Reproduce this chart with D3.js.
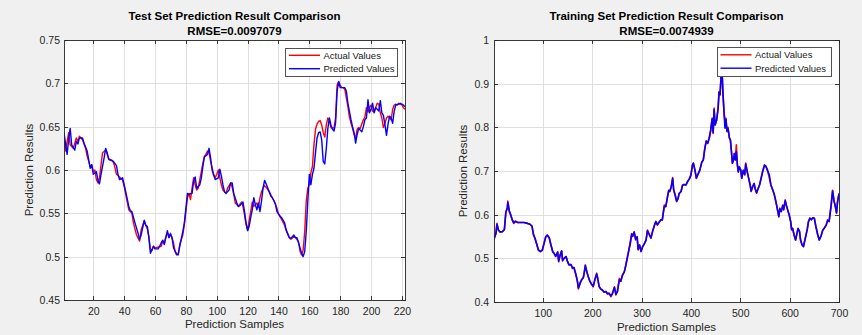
<!DOCTYPE html>
<html>
<head>
<meta charset="utf-8">
<script src="https://cdn.jsdelivr.net/npm/d3@7"></script>
<style>
  html, body { margin: 0; padding: 0; background: #f0f0f0; }
  svg { display: block; font-family: "Liberation Sans", Arial, Helvetica, sans-serif; }
</style>
</head>
<body>
<svg id="chart" width="862" height="335"></svg>
<script>
// ---- test set: [sample, value] ----
const testActual = [
  [1,0.637],[2,0.622],[4,0.643],[5,0.629],[7,0.625],[9,0.637],[10,0.633],[11,0.639],[13,0.635],[15,0.625],
  [16,0.616],[18,0.604],[19,0.606],[20,0.598],[21,0.600],[22,0.589],[23,0.585],[24,0.591],[25,0.606],[26,0.620],
  [28,0.623],[30,0.613],[32,0.611],[33,0.609],[34,0.603],[35,0.595],[37,0.592],[39,0.588],[40,0.581],[41,0.572],
  [43,0.554],[45,0.550],[46,0.539],[48,0.525],[50,0.518],[51,0.531],[53,0.541],[55,0.532],[56,0.523],[57,0.509],
  [58,0.507],[59,0.512],[60,0.510],[62,0.511],[64,0.512],[65,0.518],[66,0.516],[67,0.523],[68,0.528],[69,0.522],
  [70,0.527],[72,0.516],[73,0.506],[74,0.502],[75,0.503],[76,0.514],[78,0.525],[79,0.537],[80,0.552],[81,0.568],
  [82,0.573],[83,0.566],[84,0.579],[85,0.591],[86,0.583],[87,0.577],[88,0.579],[89,0.589],[90,0.598],[91,0.608],
  [92,0.616],[93,0.618],[94,0.622],[95,0.620],[96,0.610],[98,0.595],[99,0.591],[100,0.595],[101,0.600],[102,0.591],
  [103,0.583],[104,0.577],[106,0.573],[107,0.579],[109,0.585],[110,0.580],[111,0.572],[112,0.562],[114,0.558],[116,0.563],
  [117,0.558],[118,0.548],[119,0.537],[120,0.531],[121,0.542],[122,0.552],[123,0.563],[124,0.558],[125,0.560],[126,0.562],
  [127,0.557],[128,0.568],[129,0.575],[130,0.579],[131,0.582],[132,0.580],[134,0.575],[136,0.568],[137,0.565],[139,0.556],
  [140,0.549],[142,0.543],[144,0.536],[145,0.530],[147,0.522],[148,0.520],[150,0.523],[151,0.522],[153,0.517],[154,0.506],
  [155,0.502],[156,0.508],[157,0.529],[158,0.564],[159,0.579],[160,0.583],[161,0.597],[162,0.604],[163,0.629],[164,0.647],
  [165,0.653],[166,0.656],[167,0.657],[168,0.652],[169,0.643],[170,0.638],[171,0.652],[172,0.660],[173,0.657],[174,0.649],
  [175,0.648],[176,0.649],[177,0.660],[178,0.698],[179,0.702],[180,0.698],[181,0.695],[182,0.695],[183,0.693],[184,0.683],
  [185,0.673],[186,0.661],[187,0.654],[188,0.648],[189,0.641],[190,0.637],[191,0.647],[192,0.649],[193,0.648],[194,0.653],
  [195,0.658],[196,0.661],[197,0.672],[198,0.667],[199,0.672],[200,0.675],[201,0.668],[202,0.667],[203,0.672],[204,0.677],
  [205,0.676],[206,0.666],[207,0.660],[208,0.649],[209,0.654],[210,0.660],[211,0.662],[212,0.660],[213,0.658],[214,0.670],
  [215,0.675],[216,0.676],[217,0.675],[218,0.677],[219,0.676],[220,0.675],[221,0.672],[222,0.670]
];

const testPredicted = [
  [1,0.643],[3,0.618],[4,0.635],[5,0.648],[6,0.629],[8,0.623],[9,0.633],[10,0.630],[11,0.637],[13,0.637],
  [14,0.631],[16,0.622],[17,0.612],[18,0.602],[19,0.606],[20,0.595],[22,0.598],[23,0.588],[24,0.584],[25,0.595],
  [27,0.614],[28,0.625],[29,0.620],[30,0.612],[32,0.611],[33,0.610],[35,0.605],[36,0.595],[37,0.589],[39,0.591],
  [40,0.583],[41,0.575],[43,0.558],[44,0.553],[45,0.552],[47,0.539],[49,0.527],[50,0.520],[51,0.525],[53,0.542],
  [54,0.536],[55,0.535],[56,0.522],[57,0.504],[59,0.512],[60,0.509],[62,0.509],[63,0.512],[64,0.516],[65,0.519],
  [66,0.514],[68,0.530],[69,0.522],[70,0.526],[71,0.522],[72,0.510],[74,0.503],[75,0.502],[76,0.512],[78,0.529],
  [79,0.539],[80,0.556],[81,0.573],[82,0.572],[84,0.573],[85,0.587],[86,0.592],[87,0.579],[89,0.583],[90,0.591],
  [91,0.604],[92,0.615],[94,0.618],[95,0.625],[96,0.614],[97,0.600],[98,0.594],[99,0.589],[101,0.591],[102,0.601],
  [103,0.593],[104,0.583],[105,0.575],[106,0.573],[108,0.577],[109,0.585],[110,0.585],[111,0.573],[113,0.562],[114,0.558],
  [115,0.559],[117,0.563],[118,0.552],[119,0.539],[120,0.530],[121,0.535],[122,0.545],[123,0.554],[124,0.568],[125,0.560],
  [126,0.554],[127,0.562],[128,0.552],[129,0.564],[130,0.579],[131,0.588],[132,0.584],[134,0.575],[135,0.570],[136,0.568],
  [138,0.561],[139,0.552],[141,0.547],[142,0.545],[144,0.539],[145,0.531],[147,0.522],[148,0.521],[150,0.525],[151,0.522],
  [152,0.522],[153,0.516],[155,0.504],[156,0.500],[157,0.506],[158,0.529],[159,0.564],[160,0.595],[161,0.583],[162,0.595],
  [163,0.602],[164,0.620],[165,0.637],[166,0.643],[167,0.644],[168,0.635],[169,0.610],[170,0.607],[171,0.625],[172,0.648],
  [173,0.660],[174,0.652],[175,0.647],[176,0.645],[177,0.654],[178,0.691],[179,0.702],[180,0.695],[182,0.695],[183,0.695],
  [184,0.691],[185,0.677],[187,0.658],[188,0.650],[189,0.643],[190,0.631],[191,0.641],[192,0.648],[194,0.644],[195,0.650],
  [196,0.658],[197,0.660],[198,0.681],[199,0.666],[200,0.670],[201,0.677],[202,0.666],[203,0.672],[205,0.668],[206,0.680],
  [207,0.666],[208,0.663],[209,0.652],[210,0.640],[211,0.653],[212,0.662],[213,0.660],[214,0.654],[215,0.668],[216,0.675],
  [218,0.676],[219,0.677],[221,0.675],[222,0.673]
];

// ---- training set ----
const trainSamples = [
  1,5,7,10,13,18,22,25,28,29, 32,35,38,41,44,49,55,62,69,74,
  78,81,84,87,91,95,99,103,106,109, 113,116,120,123,126,130,132,135,138,140,
  143,147,150,153,157,160,163,167,170,172, 175,178,182,184,186,189,192,195,199,202,
  205,209,211,214,217,221,224,228,231,234, 238,241,245,248,251,255,258,261,265,268,
  272,275,277,280,282,285,288,291,293,296, 299,302,305,309,312,316,319,322,326,329,
  332,336,339,342,346,349,353,355,357,360, 363,365,368,371,374,376,380,383,386,390,
  393,397,400,403,405,408,411,415,418,422, 425,428,431,434,437,440,443,445,447,449,
  452,455,457,459,461,463,465,467,469,471, 473,475,478,480,482,484,486,488,490,492,
  494,496,498,501,503,506,509,511,514,517, 520,522,525,528,530,533,536,539,542,545,
  549,552,555,559,562,566,569,572,576,578, 580,583,586,588,591,594,597,599,602,604,
  606,609,612,614,617,620,622,625,628,630, 633,636,638,641,644,647,650,653,657,660,
  664,667,670,674,677,680,684,687,690,692, 695,697,700
];

const trainActual = [
  0.542,0.561,0.580,0.565,0.560,0.561,0.565,0.607,0.615,0.631, 0.607,0.599,0.588,0.580,0.585,0.582,0.582,0.582,0.580,0.578,
  0.573,0.553,0.546,0.534,0.519,0.515,0.519,0.538,0.550,0.553, 0.546,0.531,0.515,0.511,0.504,0.515,0.492,0.508,0.517,0.494,
  0.500,0.504,0.492,0.485,0.486,0.477,0.479,0.462,0.447,0.430, 0.443,0.450,0.456,0.469,0.485,0.469,0.458,0.448,0.440,0.435,
  0.450,0.466,0.454,0.435,0.430,0.427,0.422,0.424,0.418,0.420, 0.412,0.420,0.435,0.416,0.424,0.454,0.447,0.462,0.469,0.485,
  0.508,0.523,0.538,0.557,0.550,0.561,0.542,0.550,0.519,0.531, 0.515,0.527,0.532,0.542,0.565,0.553,0.546,0.561,0.576,0.585,
  0.576,0.584,0.588,0.588,0.622,0.618,0.645,0.656,0.653,0.664, 0.685,0.656,0.645,0.630,0.637,0.649,0.653,0.668,0.669,0.668,
  0.676,0.683,0.691,0.714,0.718,0.702,0.683,0.695,0.702,0.721, 0.725,0.752,0.769,0.763,0.775,0.794,0.821,0.786,0.844,0.805,
  0.817,0.844,0.882,0.874,0.916,0.931,0.874,0.836,0.812,0.821, 0.790,0.800,0.775,0.771,0.744,0.718,0.725,0.740,0.725,0.760,
  0.714,0.698,0.710,0.702,0.683,0.702,0.691,0.718,0.698,0.683, 0.668,0.653,0.664,0.672,0.660,0.649,0.660,0.668,0.683,0.698,
  0.714,0.710,0.702,0.683,0.668,0.656,0.645,0.630,0.607,0.595, 0.615,0.607,0.622,0.611,0.634,0.618,0.607,0.599,0.584,0.565,
  0.569,0.553,0.542,0.553,0.569,0.561,0.542,0.531,0.527,0.538, 0.553,0.569,0.584,0.592,0.588,0.593,0.592,0.573,0.553,0.542,
  0.553,0.565,0.569,0.576,0.588,0.584,0.622,0.656,0.630,0.622, 0.603,0.630,0.649
];

const trainPredicted = [
  0.545,0.556,0.578,0.565,0.561,0.561,0.566,0.605,0.615,0.628, 0.609,0.599,0.588,0.581,0.585,0.582,0.582,0.582,0.580,0.578,
  0.574,0.555,0.546,0.535,0.519,0.516,0.519,0.536,0.550,0.553, 0.547,0.533,0.515,0.511,0.505,0.514,0.494,0.507,0.517,0.495,
  0.500,0.504,0.493,0.485,0.486,0.478,0.479,0.463,0.448,0.432, 0.441,0.450,0.456,0.468,0.483,0.470,0.458,0.449,0.440,0.436,
  0.449,0.464,0.455,0.436,0.430,0.427,0.423,0.424,0.419,0.420, 0.414,0.419,0.433,0.418,0.424,0.451,0.448,0.460,0.469,0.483,
  0.505,0.523,0.532,0.555,0.551,0.560,0.544,0.549,0.521,0.530, 0.516,0.526,0.532,0.541,0.563,0.554,0.547,0.560,0.575,0.584,
  0.577,0.583,0.588,0.588,0.619,0.619,0.643,0.655,0.653,0.663, 0.683,0.658,0.645,0.631,0.637,0.648,0.653,0.667,0.669,0.668,
  0.675,0.682,0.691,0.712,0.718,0.703,0.684,0.694,0.702,0.720, 0.725,0.750,0.768,0.764,0.775,0.792,0.819,0.788,0.841,0.806,
  0.816,0.842,0.880,0.875,0.914,0.928,0.876,0.836,0.798,0.818, 0.792,0.798,0.776,0.771,0.746,0.718,0.724,0.740,0.726,0.744,
  0.716,0.698,0.709,0.702,0.684,0.701,0.692,0.716,0.699,0.683, 0.668,0.654,0.664,0.671,0.660,0.650,0.659,0.668,0.682,0.697,
  0.713,0.711,0.702,0.690,0.668,0.656,0.646,0.631,0.608,0.596, 0.613,0.607,0.621,0.612,0.632,0.619,0.607,0.600,0.585,0.566,
  0.568,0.554,0.542,0.552,0.568,0.562,0.543,0.531,0.527,0.537, 0.552,0.568,0.583,0.592,0.589,0.593,0.592,0.574,0.554,0.542,
  0.552,0.564,0.569,0.576,0.587,0.585,0.620,0.654,0.631,0.622, 0.605,0.628,0.648
];

// ---- tick labels ----
const testXTicks = [20, 40, 60, 80, 100, 120, 140, 160, 180, 200, 220];
const testYTicks = [0.45, 0.5, 0.55, 0.6, 0.65, 0.7, 0.75];
const trainXTicks = [100, 200, 300, 400, 500, 600, 700];
const trainYTicks = [0.4, 0.5, 0.6, 0.7, 0.8, 0.9, 1];

const seriesNames = ["Actual Values", "Predicted Values"];
const seriesColors = ["#ff0000", "#0000ff"];

const panels = [
  {
    id: "test",
    title: ["Test Set Prediction Result Comparison", "RMSE=0.0097079"],
    left: 64, right: 405, top: 40, bottom: 300,
    xDomain: [1, 222], yDomain: [0.45, 0.75],
    xTicks: testXTicks, yTicks: testYTicks,
    xPad: 8, yPad: 4, xLabelY: 327.5, yLabelX: 33,
    series: [testActual, testPredicted],
    lineWidth: 1.4,
    legend: { x: 285.5, y: 48, w: 111.5, h: 28 }
  },
  {
    id: "train",
    title: ["Training Set Prediction Result Comparison", "RMSE=0.0074939"],
    left: 494, right: 839, top: 40, bottom: 302,
    xDomain: [1, 700], yDomain: [0.4, 1],
    xTicks: trainXTicks, yTicks: trainYTicks,
    xPad: 8, yPad: 5, xLabelY: 331, yLabelX: 467,
    series: [
      trainSamples.map((s, i) => [s, trainActual[i]]),
      trainSamples.map((s, i) => [s, trainPredicted[i]])
    ],
    lineWidth: 1.6,
    legend: { x: 717, y: 47.5, w: 114, h: 29 }
  }
];

const svg = d3.select("#chart");
const axisColor = "#262626";

svg.append("rect")
  .attr("width", 862).attr("height", 335)
  .attr("fill", "#f0f0f0");

function tickText(d) {
  return String(+d.toFixed(2));
}

function drawPanel(p) {
  const x = d3.scaleLinear().domain(p.xDomain).range([p.left, p.right]);
  const y = d3.scaleLinear().domain(p.yDomain).range([p.bottom, p.top]);
  const w = p.right - p.left;
  const h = p.bottom - p.top;
  const g = svg.append("g");

  // plot area
  g.append("rect")
    .attr("x", p.left).attr("y", p.top)
    .attr("width", w).attr("height", h)
    .attr("fill", "#ffffff");

  // grid lines
  g.append("g")
    .attr("transform", "translate(0," + p.bottom + ")")
    .call(d3.axisBottom(x).tickValues(p.xTicks).tickSize(-h).tickFormat(""))
    .call(s => s.select(".domain").remove())
    .selectAll("line").attr("stroke", "#dfdfdf").attr("shape-rendering", "crispEdges");

  g.append("g")
    .attr("transform", "translate(" + p.left + ",0)")
    .call(d3.axisLeft(y).tickValues(p.yTicks).tickSize(-w).tickFormat(""))
    .call(s => s.select(".domain").remove())
    .selectAll("line").attr("stroke", "#dfdfdf").attr("shape-rendering", "crispEdges");

  // data lines
  g.append("clipPath").attr("id", "clip-" + p.id)
    .append("rect")
    .attr("x", p.left).attr("y", p.top)
    .attr("width", w).attr("height", h);

  const line = d3.line()
    .x(d => x(d[0]))
    .y(d => y(d[1]));

  p.series.forEach((data, i) => {
    g.append("path")
      .datum(data)
      .attr("clip-path", "url(#clip-" + p.id + ")")
      .attr("fill", "none")
      .attr("stroke", seriesColors[i])
      .attr("stroke-width", p.lineWidth)
      .attr("stroke-linejoin", "round")
      .attr("d", line);
  });

  // axes (box with inward ticks on all sides)
  const bottomAxis = g.append("g")
    .attr("transform", "translate(0," + p.bottom + ")")
    .call(d3.axisBottom(x).tickValues(p.xTicks).tickSizeInner(-4).tickSizeOuter(0).tickPadding(p.xPad));

  const leftAxis = g.append("g")
    .attr("transform", "translate(" + p.left + ",0)")
    .call(d3.axisLeft(y).tickValues(p.yTicks).tickFormat(tickText).tickSizeInner(-4).tickSizeOuter(0).tickPadding(p.yPad));

  const topAxis = g.append("g")
    .attr("transform", "translate(0," + p.top + ")")
    .call(d3.axisTop(x).tickValues(p.xTicks).tickSizeInner(-4).tickSizeOuter(0).tickFormat(""));

  const rightAxis = g.append("g")
    .attr("transform", "translate(" + p.right + ",0)")
    .call(d3.axisRight(y).tickValues(p.yTicks).tickSizeInner(-4).tickSizeOuter(0).tickFormat(""));

  [bottomAxis, leftAxis, topAxis, rightAxis].forEach(a => {
    a.attr("color", axisColor);
    a.selectAll("path, line").attr("stroke-width", 0.9).attr("shape-rendering", "crispEdges");
    a.selectAll("text")
      .attr("fill", axisColor)
      .style("font-family", "'Liberation Sans', Arial, sans-serif")
      .style("font-size", "10.5px");
  });

  // titles
  const cx = (p.left + p.right) / 2;
  g.append("text")
    .attr("x", cx).attr("y", 20)
    .attr("text-anchor", "middle")
    .attr("font-size", "11.5px").attr("font-weight", "bold")
    .attr("fill", "#000")
    .text(p.title[0]);
  g.append("text")
    .attr("x", cx).attr("y", 35)
    .attr("text-anchor", "middle")
    .attr("font-size", "11.5px").attr("font-weight", "bold")
    .attr("fill", "#000")
    .text(p.title[1]);

  // axis labels
  g.append("text")
    .attr("x", cx).attr("y", p.xLabelY)
    .attr("text-anchor", "middle")
    .attr("font-size", "11.5px")
    .attr("fill", axisColor)
    .text("Prediction Samples");
  g.append("text")
    .attr("transform", "translate(" + p.yLabelX + "," + ((p.top + p.bottom) / 2) + ") rotate(-90)")
    .attr("text-anchor", "middle")
    .attr("font-size", "11.5px")
    .attr("fill", axisColor)
    .text("Prediction Results");

  // legend
  const L = p.legend;
  const lg = g.append("g").attr("transform", "translate(" + L.x + "," + L.y + ")");
  lg.append("rect")
    .attr("width", L.w).attr("height", L.h)
    .attr("fill", "#ffffff")
    .attr("stroke", axisColor).attr("stroke-width", 0.8)
    .attr("shape-rendering", "crispEdges");
  seriesNames.forEach((name, i) => {
    const ly = 7.3 + i * 13.4;
    lg.append("line")
      .attr("x1", 3.5).attr("x2", 34.5)
      .attr("y1", ly).attr("y2", ly)
      .attr("stroke", seriesColors[i]).attr("stroke-width", 1.4);
    lg.append("text")
      .attr("x", 38).attr("y", ly + 3.4)
      .attr("font-size", "9.5px")
      .attr("fill", "#1a1a1a")
      .text(name);
  });
}

panels.forEach(drawPanel);
</script>
</body>
</html>
